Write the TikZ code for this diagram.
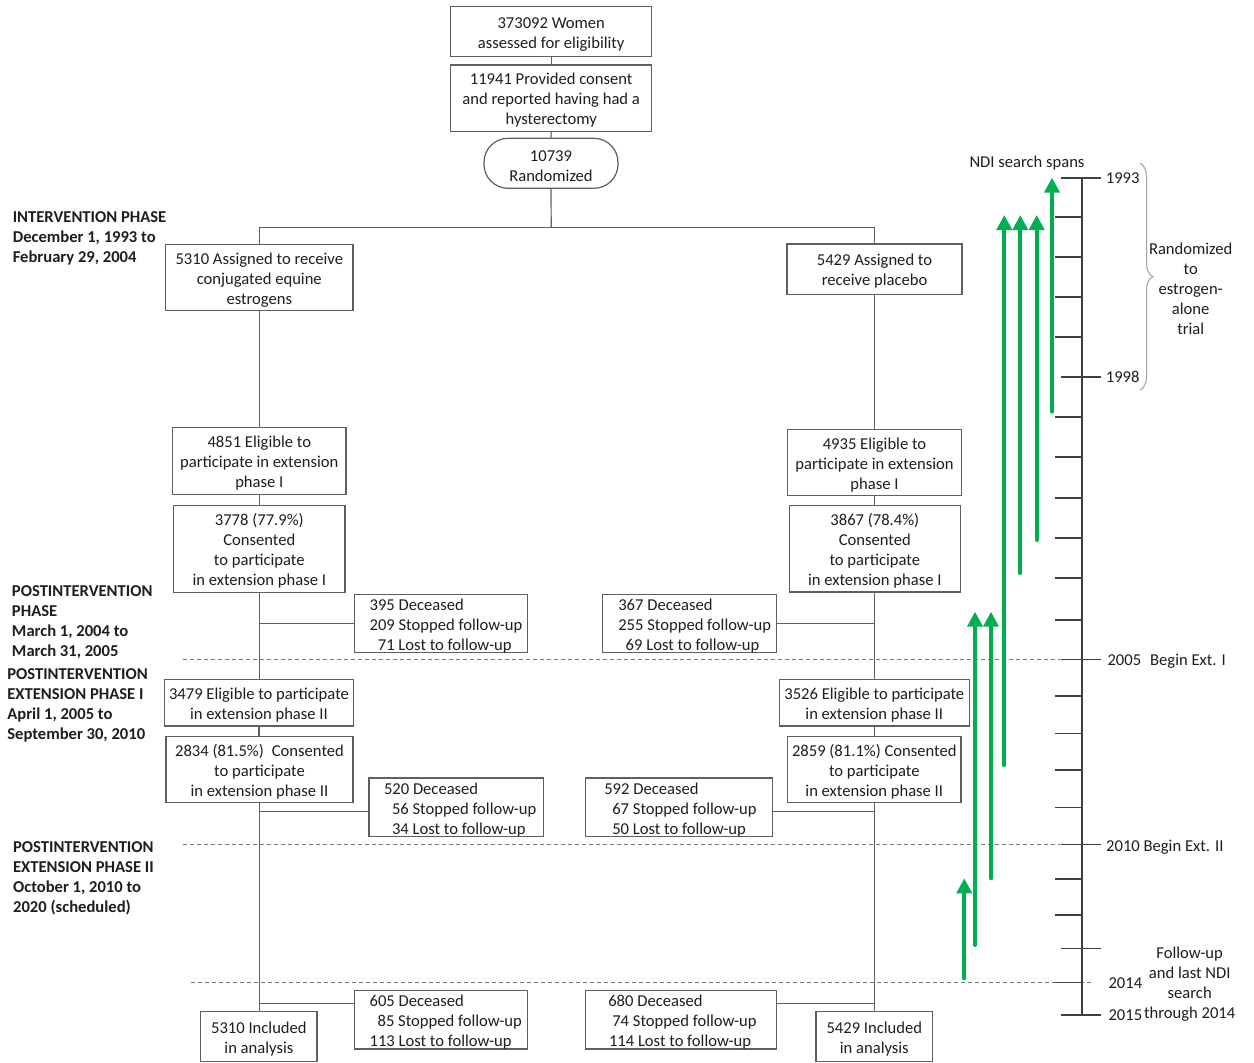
\documentclass[tikz,border=0pt]{standalone}
\usepackage{fontspec}
\setmainfont{Carlito}
\usetikzlibrary{arrows.meta,decorations.pathreplacing,calc}
\definecolor{linec}{RGB}{95,95,95}
\definecolor{txt}{RGB}{30,30,30}
\definecolor{ndigreen}{RGB}{0,176,80}
\definecolor{dashc}{RGB}{120,120,120}
\definecolor{bracec}{RGB}{160,160,160}
\begin{document}
\begin{tikzpicture}[x=1pt,y=-1pt,
  font=\fontsize{16.6}{20}\selectfont, text=txt,
  box/.style={draw=linec, line width=1.2pt, inner xsep=0pt, inner ysep=0pt, align=flush center, execute at begin node={\rule{0pt}{16pt}}},
  dbox/.style={draw=linec, line width=1.2pt, inner xsep=0pt, inner ysep=0pt, align=flush left, execute at begin node={\rule{0pt}{16pt}}},
  conn/.style={draw=linec, line width=1.2pt},
  dashline/.style={draw=dashc, line width=0.9pt, dash pattern=on 4pt off 3pt},
  axisline/.style={draw=black!75, line width=1.6pt},
  garrow/.style={draw=ndigreen, line width=4pt, line cap=round, -{Triangle[width=15pt,length=15pt]}},
  phase/.style={font=\fontsize{16.6}{20}\selectfont\bfseries, align=flush left, inner sep=0pt, anchor=west},
  lbl/.style={inner sep=0pt},
]
\fill[white] (0,0) rectangle (1254,1063);
\useasboundingbox (0,0) rectangle (1254,1063);

% ---- top chain
\node[box, text width=200.7pt, minimum height=50pt] (b1) at (551.2,31.7) {373092 Women\\assessed for eligibility};
\node[box, text width=200.7pt, minimum height=66.7pt] (b2) at (551.2,98.3) {11941 Provided consent\\and reported having had a\\hysterectomy};
\node[box, rounded corners=24pt, text width=134pt, minimum height=50pt] (b3) at (551,163.3) {10739\\Randomized};

% ---- left column
\node[box, text width=187.5pt, minimum height=66.4pt] (L1) at (259.3,277.5) {5310 Assigned to receive\\conjugated equine\\estrogens};
\node[box, text width=173.4pt, minimum height=66.6pt] (L2) at (259.3,461) {4851 Eligible to\\participate in extension\\phase I};
\node[box, text width=171.3pt, minimum height=86.6pt] (L3) at (259.3,549) {3778 (77.9\%)\\Consented\\to participate\\in extension phase I};
\node[box, text width=189.3pt, minimum height=46.7pt] (L4) at (259,702.7) {3479 Eligible to participate\\in extension phase II};
\node[box, text width=187pt, minimum height=65.6pt] (L5) at (259.5,769.5) {2834 (81.5\%)\hspace{8pt}Consented\\to participate\\in extension phase II};
\node[box, text width=116.3pt, minimum height=49.6pt] (L6) at (258.9,1036.5) {5310 Included\\in analysis};

% ---- right column
\node[box, text width=175pt, minimum height=50.3pt] (R1) at (874.5,269.2) {5429 Assigned to\\receive placebo};
\node[box, text width=173.6pt, minimum height=66.4pt] (R2) at (874.5,462.5) {4935 Eligible to\\participate in extension\\phase I};
\node[box, text width=171pt, minimum height=86.7pt] (R3) at (874.8,548.7) {3867 (78.4\%)\\Consented\\to participate\\in extension phase I};
\node[box, text width=190pt, minimum height=46.7pt] (R4) at (874.3,702.7) {3526 Eligible to participate\\in extension phase II};
\node[box, text width=173.3pt, minimum height=65.6pt] (R5) at (874.3,769.5) {2859 (81.1\%) Consented\\to participate\\in extension phase II};
\node[box, text width=116.7pt, minimum height=49.6pt] (R6) at (874.3,1036.5) {5429 Included\\in analysis};

% ---- loss boxes
\node[dbox, text width=172.9pt, minimum height=58.4pt] (d1) at (441.05,623.5) {\hspace*{15pt}395 Deceased\\\hspace*{15pt}209 Stopped follow-up\\\hspace*{23.3pt}71 Lost to follow-up};
\node[dbox, text width=174.4pt, minimum height=58.4pt] (d2) at (689.5,623.5) {\hspace*{16pt}367 Deceased\\\hspace*{16pt}255 Stopped follow-up\\\hspace*{23.4pt}69 Lost to follow-up};
\node[dbox, text width=174.6pt, minimum height=58.7pt] (d3) at (456.3,807.35) {\hspace*{15pt}520 Deceased\\\hspace*{23pt}56 Stopped follow-up\\\hspace*{23pt}34 Lost to follow-up};
\node[dbox, text width=186.6pt, minimum height=58.7pt] (d4) at (679,807.35) {\hspace*{18.6pt}592 Deceased\\\hspace*{26.6pt}67 Stopped follow-up\\\hspace*{26.6pt}50 Lost to follow-up};
\node[dbox, text width=172.9pt, minimum height=58pt] (d5) at (441.05,1019.7) {\hspace*{15pt}605 Deceased\\\hspace*{23pt}85 Stopped follow-up\\\hspace*{15pt}113 Lost to follow-up};
\node[dbox, text width=191pt, minimum height=58pt] (d6) at (681.2,1019.7) {\hspace*{22.6pt}680 Deceased\\\hspace*{26.6pt}74 Stopped follow-up\\\hspace*{23.3pt}114 Lost to follow-up};

% ---- connectors, top
\draw[conn] (b1.south) -- (b2.north);
\draw[conn] (b2.south) -- (b3.north);
\coordinate (split) at (551.2,227.3);
\draw[conn] (b3.south) -- (split);
\draw[conn] (L1.north) |- (split) -| (R1.north);

% ---- trunks
\draw[conn] (L1.south) -- (L1.south |- L2.north);
\draw[conn] (L2.south) -- (L2.south |- L3.north);
\draw[conn] (L3.south) -- (L3.south |- L4.north);
\draw[conn] (L4.south) -- (L4.south |- L5.north);
\draw[conn] (L5.south) -- (L5.south |- L6.north);
\draw[conn] (R1.south) -- (R1.south |- R2.north);
\draw[conn] (R2.south) -- (R2.south |- R3.north);
\draw[conn] (R3.south) -- (R3.south |- R4.north);
\draw[conn] (R4.south) -- (R4.south |- R5.north);
\draw[conn] (R5.south) -- (R5.south |- R6.north);

% ---- side connectors
\draw[conn] (d1.west) -- (d1.west -| L3.south);
\draw[conn] (d2.east) -- (d2.east -| R3.south);
\coordinate (c3) at ([yshift=-4pt]d3.west);
\coordinate (c4) at ([yshift=-4pt]d4.east);
\coordinate (c5) at ([yshift=16.4pt]d5.west);
\coordinate (c6) at ([yshift=16.4pt]d6.east);
\draw[conn] (c3) -- (c3 -| L5.south);
\draw[conn] (c4) -- (c4 -| R5.south);
\draw[conn] (c5) -- (c5 -| L5.south);
\draw[conn] (c6) -- (c6 -| R5.south);

% ---- phase separators
\draw[dashline] (183,659.3) -- (1060,659.3);
\draw[dashline] (183,844.5) -- (1060,844.5);
\draw[dashline] (191,982.5) -- (1093,982.5);

% ---- phase labels
\node[phase] (pA) at (12.6,238.3) {INTERVENTION PHASE\\December 1, 1993 to\\February 29, 2004};
\node[phase] (pB) at (11.8,622) {POSTINTERVENTION\\PHASE\\March 1, 2004 to\\March 31, 2005};
\node[phase] (pC) at (7.1,705.3) {POSTINTERVENTION\\EXTENSION PHASE I\\April 1, 2005 to\\September 30, 2010};
\node[phase] (pD) at (12.9,878.1) {POSTINTERVENTION\\EXTENSION PHASE II\\October 1, 2010 to\\2020 (scheduled)};

% ---- timeline axis
\draw[axisline] (1081.7,177.7) -- (1081.7,1015);
\foreach \y in {217,257,297,337,417,457,498,538,578,620,696,733.3,770,807.3,879,914.7,982.5}
  \draw[axisline] (1055,\y) -- (1081.7,\y);
\foreach \y in {177.7,377,659.3,844.5,948.3,1015}
  \draw[axisline] (1061,\y) -- (1101,\y);

\node[lbl, anchor=base west] (y1993) at (1105.7,183.6) {1993};
\node[lbl, anchor=base west] (y1998) at (1105.7,382.9) {1998};
\node[lbl, anchor=base west] (y2005) at (1107.3,665.9) {2005\hspace{9pt}Begin Ext. I};
\node[lbl, anchor=base west] (y2010) at (1106,851.6) {2010 Begin Ext. II};
\node[lbl, anchor=base west] (y2014) at (1108.3,988.6) {2014};
\node[lbl, anchor=base west] (y2015) at (1108.3,1020.9) {2015};
\node[lbl, align=flush center] (fu) at (1189.7,984.5) {Follow-up\\and last NDI\\search\\through 2014};
\node[lbl] (ndi) at (1027,163) {NDI search spans};
\node[lbl, align=flush center] (rand) at (1190.7,288.5) {Randomized\\to\\estrogen-\\alone\\trial};

\draw[bracec, line width=1pt, decorate, decoration={brace, amplitude=13pt}] (1140,163.3) -- (1140,390);

% ---- green NDI arrows
\foreach \i/\x/\t/\b in {1/1004.3/215/765, 2/1020.3/215/573, 3/1036.7/215/540, 4/1052/177.7/411.7, 5/975/611.7/945, 6/991/611.7/878.3, 7/964.3/878.3/978.3} {
  \coordinate (gs\i) at (\x,\b);
  \coordinate (ge\i) at (\x,\t);
  \draw[garrow] (gs\i) -- (ge\i);
}
\end{tikzpicture}
\end{document}
